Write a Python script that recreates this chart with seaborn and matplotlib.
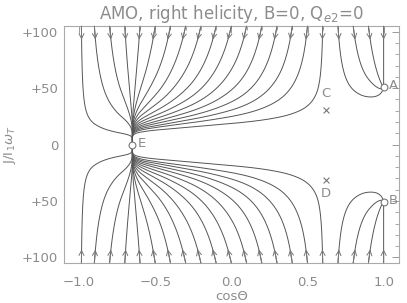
import numpy as np
import pandas as pd
import matplotlib
matplotlib.use("Agg")
import matplotlib.pyplot as plt
import seaborn as sns

# ---- data ----
title = "AMO, right helicity, B=0, Q$_{e2}$=0"
start_cos = [-0.985, -0.9, -0.8, -0.7, -0.6, -0.5, -0.4, -0.3, -0.2, -0.1, 0.0,
             0.1, 0.2, 0.3, 0.4, 0.5, 0.6, 0.7, 0.8, 0.9, 1.0]
start_J = 105.0
# fixed points
attractor_x = [1.0, 1.0, -0.65]
attractor_y = [51.0, -51.0, 0.0]
attractor_lab = ["A", "B", "E"]
repellor_x = [0.62, 0.62]
repellor_y = [31.0, -31.0]
repellor_lab = ["C", "D"]
# torque profiles (knots): spin-up H(cos) and alignment G(cos)
h_knots_x = [-1.0, -0.65, -0.3, 0.0, 0.4, 0.6, 0.8, 1.0]
h_knots_v = [-20.0, -5.0, 3.0, 8.0, 10.0, 13.0, 30.0, 51.0]
g_knots_x = [-1.0, -0.9, -0.8, -0.72, -0.65, -0.58, -0.5, -0.3, 0.0, 0.3,
             0.45, 0.55, 0.62, 0.7, 0.8, 0.9, 1.0]
g_knots_v = [0.0, 6.5, 8.0, 7.0, 0.0, -8.0, -13.0, -17.0, -17.0, -13.0,
             -9.0, -5.0, 0.0, 4.0, 7.0, 6.0, 0.0]
x_ticks = [-1.0, -0.5, 0.0, 0.5, 1.0]
x_ticklabels = ["\u22121.0", "\u22120.5", "0.0", "0.5", "1.0"]
y_ticks = [100, 50, 0, -50, -100]
y_ticklabels = ["+100", "+50", "0", "+50", "+100"]


def field(x, J):
    H = np.interp(x, h_knots_x, h_knots_v)
    G = np.interp(x, g_knots_x, g_knots_v)
    return G / J, H - J


def trajectory(x0, J0, dt=0.002, nmax=20000):
    xs, js = [x0], [J0]
    x, J = x0, J0
    for _ in range(nmax):
        k1 = field(x, J)
        k2 = field(x + 0.5 * dt * k1[0], J + 0.5 * dt * k1[1])
        k3 = field(x + 0.5 * dt * k2[0], J + 0.5 * dt * k2[1])
        k4 = field(x + dt * k3[0], J + dt * k3[1])
        dx = dt * (k1[0] + 2 * k2[0] + 2 * k3[0] + k4[0]) / 6
        dJ = dt * (k1[1] + 2 * k2[1] + 2 * k3[1] + k4[1]) / 6
        x = min(max(x + dx, -1.0), 1.0)
        J = J + dJ
        if J <= 0.2:
            xs.append(x); js.append(0.0)
            break
        xs.append(x); js.append(J)
        if abs(dx) / dt < 1e-4 and abs(dJ) / dt < 1e-2:
            break
    return np.array(xs), np.array(js)


rows = []
curves = []
for i, x0 in enumerate(start_cos):
    xs, js = trajectory(x0, start_J)
    curves.append((xs, js))
    for sgn, tag in [(1, "u"), (-1, "d")]:
        rows.append(pd.DataFrame({"cos": xs, "J": sgn * js, "curve": f"{tag}{i}"}))
df = pd.concat(rows, ignore_index=True)

sns.set_theme(style="white")
plt.rcParams["font.family"] = ["DejaVu Sans"]
txt = "#8c8c8c"
line_c = "#555555"

fig = plt.figure(figsize=(4.07, 3.03), dpi=100)
ax = fig.add_axes([0.157, 0.132, 0.823, 0.782])
sns.lineplot(data=df, x="cos", y="J", units="curve", estimator=None, sort=False,
             color=line_c, lw=0.7, ax=ax, legend=False)

for xs, js in curves:
    i_tip = np.argmin(np.abs(js - 93))
    for sgn in (1, -1):
        ax.annotate("", xy=(xs[i_tip], sgn * js[i_tip]), xytext=(xs[0], sgn * js[0]),
                    arrowprops=dict(arrowstyle="->", color="#777777", lw=0.7,
                                    mutation_scale=9, shrinkA=0, shrinkB=0))

sns.scatterplot(x=attractor_x, y=attractor_y, ax=ax, marker="o", s=24,
                facecolors="white", edgecolor="#777777", linewidth=0.8, zorder=5)
sns.scatterplot(x=repellor_x, y=repellor_y, ax=ax, marker="x", s=18,
                color="#777777", linewidth=0.8, zorder=5)
for xv, yv, lab in zip(attractor_x, attractor_y, attractor_lab):
    ax.text(xv + 0.035, yv + 1, lab, color=txt, fontsize=9.5, va="center", ha="left")
for xv, yv, lab in zip(repellor_x, repellor_y, repellor_lab):
    ax.text(xv, yv + (14 if yv > 0 else -12), lab, color=txt, fontsize=9.5,
            va="center", ha="center")

ax.set_xlim(-1.1, 1.1)
ax.set_ylim(-105, 105)
ax.set_xticks(x_ticks)
ax.set_xticklabels(x_ticklabels)
ax.set_yticks(y_ticks)
ax.set_yticklabels(y_ticklabels)
ax.set_xticks(np.arange(-1.1, 1.11, 0.1), minor=True)
ax.set_yticks(np.arange(-100, 101, 10), minor=True)
ax.tick_params(which="both", direction="in", top=True, right=True, colors="#999999",
               labelcolor=txt, labelsize=9.5)
ax.tick_params(axis="x", which="major", pad=9)
ax.tick_params(axis="y", which="major", pad=4)
ax.tick_params(which="major", length=5, width=0.7)
ax.tick_params(which="minor", length=3, width=0.6)
for s in ax.spines.values():
    s.set_color("#aaaaaa")
    s.set_linewidth(0.8)
ax.set_xlabel("cos\u0398", color=txt, fontsize=9.5, labelpad=1)
ax.set_ylabel("J/I$_1\\omega_T$", color=txt, fontsize=9.5, labelpad=3)
ax.set_title(title, color=txt, fontsize=12, pad=5)
fig.savefig("out.png", dpi=100)
